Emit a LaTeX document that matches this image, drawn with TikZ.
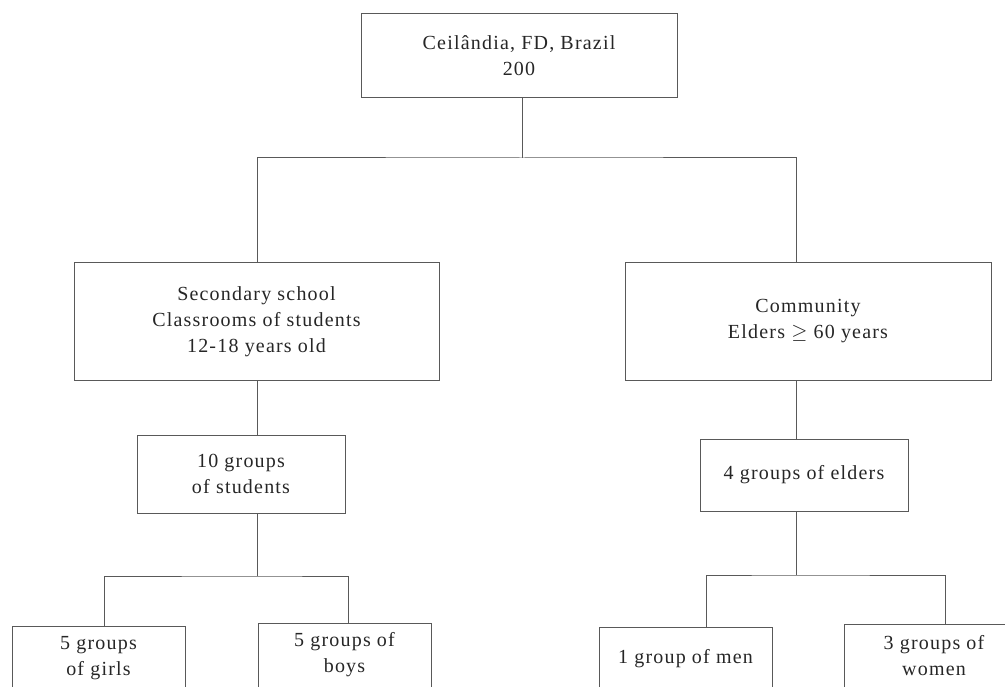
\documentclass[tikz,border=0pt]{standalone}
\usepackage{fontspec}
\setmainfont[LetterSpace=6]{Liberation Serif}
\begin{document}
\begin{tikzpicture}[x=1pt,y=-1pt,
box/.style={draw=black!65, line width=1pt, align=center, inner sep=0pt, text=black!85, font=\fontsize{20}{26}\selectfont},
link/.style={draw=black!65, line width=1pt}]
\useasboundingbox (0,0) rectangle (1005,687);
\clip (0,0) rectangle (1005,687);
% boxes
\node[box, minimum width=316pt, minimum height=84pt] (top) at (519,56) {Ceilândia, FD, Brazil\\200};
\node[box, minimum width=365pt, minimum height=117pt] (school) at (256.5,321.5) {Secondary school\\Classrooms of students\\12-18 years old};
\node[box, minimum width=366pt, minimum height=117pt] (community) at (808,321.5) {Community\\Elders $\geq$ 60 years};
\node[box, minimum width=208pt, minimum height=78pt] (students) at (241,474) {10 groups\\of students};
\node[box, minimum width=208pt, minimum height=72pt] (elders) at (804,475) {4 groups of elders};
\node[box, minimum width=173pt, minimum height=64pt] (girls) at (98.5,658) {5 groups\\of girls};
\node[box, minimum width=173pt, minimum height=64pt] (boys) at (344.5,655) {5 groups of\\boys};
\node[box, minimum width=173pt, minimum height=64pt] (men) at (685.5,659) {1 group of men};
\node[box, minimum width=180pt, minimum height=64pt] (women) at (934,656) {3 groups of\\women};
% branch points
\coordinate (split) at (522,158);
\coordinate (lsplit) at (257,576);
\coordinate (rsplit) at (796,575);
\coordinate (lx) at (257,0);
\coordinate (rx) at (796,0);
\coordinate (gx) at (104,0);
\coordinate (bx) at (348,0);
\coordinate (mx) at (706,0);
\coordinate (wx) at (945,0);
% connectors
\draw[link] (top.south -| split) -- (split);
\draw[link] (school.north -| lx) |- (split) -| (community.north -| rx);
\draw[link] (school.south -| lx) -- (students.north -| lx);
\draw[link] (community.south -| rx) -- (elders.north -| rx);
\draw[link] (students.south -| lx) -- (lsplit);
\draw[link] (elders.south -| rx) -- (rsplit);
\draw[link] (girls.north -| gx) |- (lsplit) -| (boys.north -| bx);
\draw[link] (men.north -| mx) |- (rsplit) -| (women.north -| wx);
\end{tikzpicture}
\end{document}
